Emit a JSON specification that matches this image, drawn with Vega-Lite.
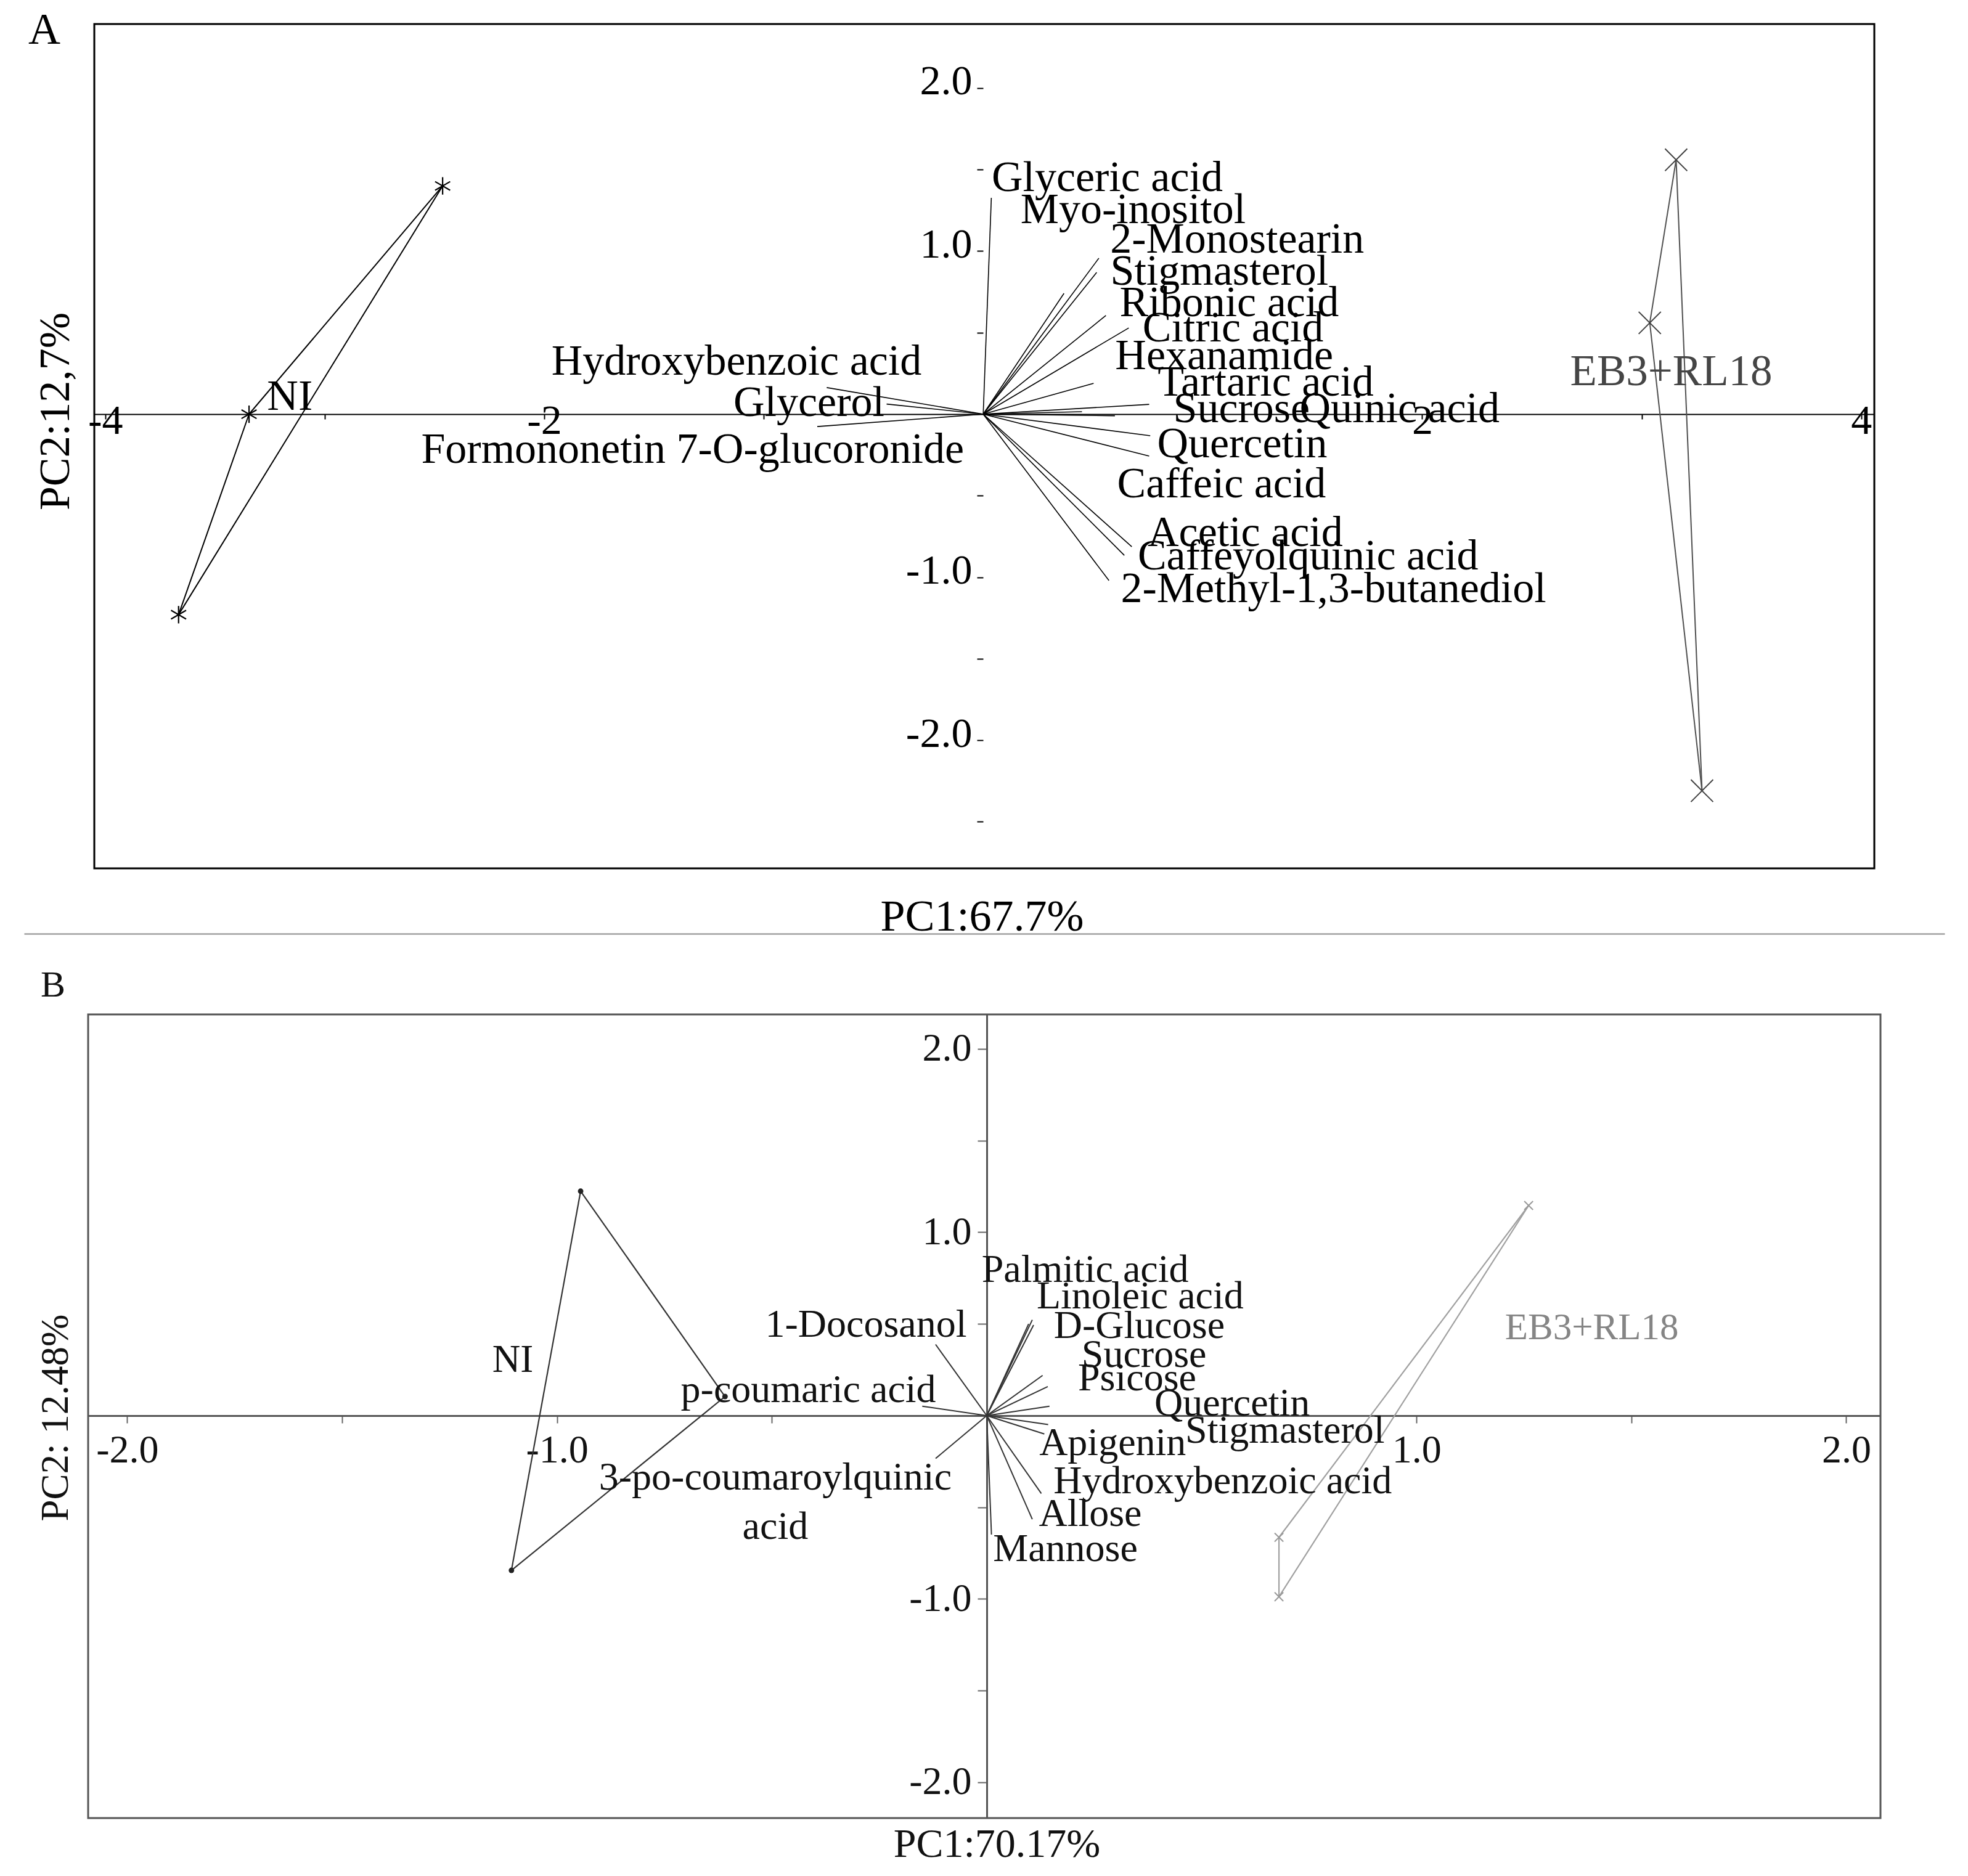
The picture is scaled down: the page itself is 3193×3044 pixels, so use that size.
{
  "$schema": "https://vega.github.io/schema/vega-lite/v6.json",
  "background": "white",
  "padding": {"left": 36, "top": 11, "right": 5, "bottom": 5},
  "spacing": 106,
  "center": true,
  "bounds": "flush",
  "resolve": {"scale": {"x": "independent", "y": "independent"}},
  "datasets": {
    "edgesA": [
      {"grp": "NI", "xa": -2.463, "ya": 1.40, "xb": -3.345, "yb": 0.0},
      {"grp": "NI", "xa": -3.345, "ya": 0.0, "xb": -3.666, "yb": -1.23},
      {"grp": "NI", "xa": -3.666, "ya": -1.23, "xb": -2.463, "yb": 1.40},
      {"grp": "EB3+RL18", "xa": 3.157, "ya": 1.56, "xb": 3.037, "yb": 0.56},
      {"grp": "EB3+RL18", "xa": 3.037, "ya": 0.56, "xb": 3.275, "yb": -2.31},
      {"grp": "EB3+RL18", "xa": 3.275, "ya": -2.31, "xb": 3.157, "yb": 1.56}
    ],
    "ptsA": [
      {"grp": "NI", "x": -2.463, "y": 1.40},
      {"grp": "NI", "x": -3.345, "y": 0.0},
      {"grp": "NI", "x": -3.666, "y": -1.23},
      {"grp": "EB3+RL18", "x": 3.157, "y": 1.56},
      {"grp": "EB3+RL18", "x": 3.037, "y": 0.56},
      {"grp": "EB3+RL18", "x": 3.275, "y": -2.31}
    ],
    "vecA": [
      {"name": "Glyceric acid", "ox": 0, "oy": 0, "vx": 0.037, "vy": 1.327, "lx": 0.565, "ly": 1.448},
      {"name": "Myo-inositol", "ox": 0, "oy": 0, "vx": 0.368, "vy": 0.741, "lx": 0.683, "ly": 1.251},
      {"name": "2-Monostearin", "ox": 0, "oy": 0, "vx": 0.527, "vy": 0.957, "lx": 1.157, "ly": 1.070},
      {"name": "Stigmasterol", "ox": 0, "oy": 0, "vx": 0.517, "vy": 0.870, "lx": 1.076, "ly": 0.873},
      {"name": "Ribonic acid", "ox": 0, "oy": 0, "vx": 0.559, "vy": 0.605, "lx": 1.121, "ly": 0.681},
      {"name": "Citric acid", "ox": 0, "oy": 0, "vx": 0.663, "vy": 0.529, "lx": 1.138, "ly": 0.526},
      {"name": "Hexanamide", "ox": 0, "oy": 0, "vx": 0.503, "vy": 0.189, "lx": 1.098, "ly": 0.355},
      {"name": "Tartaric acid", "ox": 0, "oy": 0, "vx": 0.756, "vy": 0.060, "lx": 1.287, "ly": 0.193},
      {"name": "Sucrose", "ox": 0, "oy": 0, "vx": 0.45, "vy": 0.015, "lx": 1.177, "ly": 0.030},
      {"name": "Quinic acid", "ox": 0, "oy": 0, "vx": 0.60, "vy": -0.01, "lx": 1.897, "ly": 0.030},
      {"name": "Quercetin", "ox": 0, "oy": 0, "vx": 0.761, "vy": -0.132, "lx": 1.180, "ly": -0.185},
      {"name": "Caffeic acid", "ox": 0, "oy": 0, "vx": 0.756, "vy": -0.257, "lx": 1.086, "ly": -0.431},
      {"name": "Acetic acid", "ox": 0, "oy": 0, "vx": 0.677, "vy": -0.813, "lx": 1.194, "ly": -0.730},
      {"name": "Caffeyolquinic acid", "ox": 0, "oy": 0, "vx": 0.643, "vy": -0.866, "lx": 1.480, "ly": -0.873},
      {"name": "2-Methyl-1,3-butanediol", "ox": 0, "oy": 0, "vx": 0.573, "vy": -1.021, "lx": 1.596, "ly": -1.074},
      {"name": "Hydroxybenzoic acid", "ox": 0, "oy": 0, "vx": -0.713, "vy": 0.163, "lx": -1.124, "ly": 0.321},
      {"name": "Glycerol", "ox": 0, "oy": 0, "vx": -0.44, "vy": 0.062, "lx": -0.794, "ly": 0.068},
      {"name": "Formononetin 7-O-glucoronide", "ox": 0, "oy": 0, "vx": -0.756, "vy": -0.076, "lx": -1.324, "ly": -0.219}
    ],
    "grpA": [
      {"grp": "NI", "x": -3.159, "y": 0.106},
      {"grp": "EB3+RL18", "x": 3.135, "y": 0.257}
    ],
    "edgesB": [
      {"grp": "NI", "xa": -0.945, "ya": 1.224, "xb": -0.609, "yb": 0.104},
      {"grp": "NI", "xa": -0.609, "ya": 0.104, "xb": -1.106, "yb": -0.844},
      {"grp": "NI", "xa": -1.106, "ya": -0.844, "xb": -0.945, "yb": 1.224},
      {"grp": "EB3+RL18", "xa": 1.261, "ya": 1.146, "xb": 0.680, "yb": -0.664},
      {"grp": "EB3+RL18", "xa": 0.680, "ya": -0.664, "xb": 0.680, "yb": -0.988},
      {"grp": "EB3+RL18", "xa": 0.680, "ya": -0.988, "xb": 1.261, "yb": 1.146}
    ],
    "ptsB": [
      {"grp": "NI", "x": -0.945, "y": 1.224},
      {"grp": "NI", "x": -0.609, "y": 0.104},
      {"grp": "NI", "x": -1.106, "y": -0.844},
      {"grp": "EB3+RL18", "x": 1.261, "y": 1.146},
      {"grp": "EB3+RL18", "x": 0.680, "y": -0.664},
      {"grp": "EB3+RL18", "x": 0.680, "y": -0.988}
    ],
    "vecB": [
      {"name": "Palmitic acid", "ox": 0, "oy": 0, "vx": 0.0975, "vy": 0.50, "lx": 0.229, "ly": 0.793},
      {"name": "Linoleic acid", "ox": 0, "oy": 0, "vx": 0.106, "vy": 0.522, "lx": 0.357, "ly": 0.650},
      {"name": "D-Glucose", "ox": 0, "oy": 0, "vx": 0.109, "vy": 0.494, "lx": 0.355, "ly": 0.487},
      {"name": "Sucrose", "ox": 0, "oy": 0, "vx": 0.130, "vy": 0.219, "lx": 0.366, "ly": 0.329},
      {"name": "Psicose", "ox": 0, "oy": 0, "vx": 0.142, "vy": 0.158, "lx": 0.350, "ly": 0.203},
      {"name": "Quercetin", "ox": 0, "oy": 0, "vx": 0.146, "vy": 0.051, "lx": 0.571, "ly": 0.064},
      {"name": "Stigmasterol", "ox": 0, "oy": 0, "vx": 0.143, "vy": -0.049, "lx": 0.694, "ly": -0.084},
      {"name": "Apigenin", "ox": 0, "oy": 0, "vx": 0.134, "vy": -0.10, "lx": 0.293, "ly": -0.151},
      {"name": "Hydroxybenzoic acid", "ox": 0, "oy": 0, "vx": 0.127, "vy": -0.425, "lx": 0.549, "ly": -0.360},
      {"name": "Allose", "ox": 0, "oy": 0, "vx": 0.106, "vy": -0.565, "lx": 0.241, "ly": -0.538},
      {"name": "Mannose", "ox": 0, "oy": 0, "vx": 0.011, "vy": -0.649, "lx": 0.183, "ly": -0.729},
      {"name": "1-Docosanol", "ox": 0, "oy": 0, "vx": -0.119, "vy": 0.388, "lx": -0.281, "ly": 0.494},
      {"name": "p-coumaric acid", "ox": 0, "oy": 0, "vx": -0.150, "vy": 0.051, "lx": -0.415, "ly": 0.138},
      {"name": "3-po-coumaroylquinic\nacid", "ox": 0, "oy": 0, "vx": -0.119, "vy": -0.234, "lx": -0.492, "ly": -0.339}
    ],
    "grpB": [
      {"grp": "NI", "x": -1.103, "y": 0.303},
      {"grp": "EB3+RL18", "x": 1.408, "y": 0.477}
    ]
  },
  "vconcat": [
    {
      "width": 2888,
      "height": 1370,
      "view": {"stroke": "black", "strokeWidth": 3},
      "title": {"text": "A", "anchor": "start", "frame": "group", "orient": "top", "offset": -71, "dx": -107, "dy": 33, "baseline": "alphabetic", "fontSize": 72, "fontWeight": "normal", "color": "black", "font": "Liberation Serif"},
      "layer": [
        {
          "data": {"name": "edgesA"},
          "transform": [{"filter": "datum.grp == 'NI'"}],
          "mark": {"type": "rule", "color": "black", "strokeWidth": 2},
          "encoding": {
            "x": {"field": "xa", "type": "quantitative",
              "scale": {"domain": [-4.05, 4.06], "nice": false, "zero": false},
              "axis": {"orient": "bottom", "offset": -737, "values": [-4, -3, -2, -1, 1, 2, 3, 4],
                "labelExpr": "datum.value % 2 == 0 ? (datum.value < 0 ? '-' : '') + abs(datum.value) : ''",
                "domain": true, "domainColor": "black", "domainWidth": 2,
                "ticks": true, "tickColor": "black", "tickWidth": 2, "tickSize": 8,
                "labelFontSize": 68, "labelPadding": -31, "labelBaseline": "top",
                "title": "PC1:67.7%", "titleFontSize": 72, "titleX": 1440, "titleY": 815, "titleBaseline": "middle", "titleAlign": "center"}},
            "y": {"field": "ya", "type": "quantitative",
              "scale": {"domain": [-2.786, 2.393], "nice": false, "zero": false},
              "axis": {"orient": "left", "offset": -1442, "values": [-2.5, -2, -1.5, -1, -0.5, 0.5, 1, 1.5, 2],
                "labelExpr": "datum.value % 1 == 0 ? (datum.value < 0 ? '-' : '') + format(abs(datum.value), '.1f') : ''",
                "domain": false, "ticks": true, "tickColor": "black", "tickWidth": 2, "tickSize": 10,
                "labelFontSize": 68, "labelPadding": 8, "labelOffset": -10, "labelBaseline": "middle",
                "title": "PC2:12,7%", "titleFontSize": 70, "titleX": -1505, "titleY": 628, "titleAngle": 270, "titleAlign": "center", "titleBaseline": "middle"}},
            "x2": {"field": "xb"},
            "y2": {"field": "yb"}
          }
        },
        {
          "data": {"name": "edgesA"},
          "transform": [{"filter": "datum.grp != 'NI'"}],
          "mark": {"type": "rule", "color": "#505050", "strokeWidth": 2},
          "encoding": {
            "x": {"field": "xa", "type": "quantitative"},
            "y": {"field": "ya", "type": "quantitative"},
            "x2": {"field": "xb"},
            "y2": {"field": "yb"}
          }
        },
        {
          "data": {"name": "vecA"},
          "mark": {"type": "rule", "color": "black", "strokeWidth": 1.6},
          "encoding": {
            "x": {"field": "ox", "type": "quantitative"},
            "y": {"field": "oy", "type": "quantitative"},
            "x2": {"field": "vx"},
            "y2": {"field": "vy"}
          }
        },
        {
          "data": {"name": "ptsA"},
          "transform": [{"filter": "datum.grp == 'NI'"}],
          "mark": {"type": "point", "shape": "M0,-1L0,1M-0.866,-0.5L0.866,0.5M-0.866,0.5L0.866,-0.5", "size": 800, "filled": false, "stroke": "black", "strokeWidth": 2.2, "opacity": 1},
          "encoding": {
            "x": {"field": "x", "type": "quantitative"},
            "y": {"field": "y", "type": "quantitative"}
          }
        },
        {
          "data": {"name": "ptsA"},
          "transform": [{"filter": "datum.grp != 'NI'"}],
          "mark": {"type": "point", "shape": "M-1,-1L1,1M-1,1L1,-1", "size": 1300, "filled": false, "stroke": "#404040", "strokeWidth": 2, "opacity": 1},
          "encoding": {
            "x": {"field": "x", "type": "quantitative"},
            "y": {"field": "y", "type": "quantitative"}
          }
        },
        {
          "data": {"name": "vecA"},
          "mark": {"type": "text", "fontSize": 70, "align": "center", "baseline": "middle", "color": "black", "font": "Liberation Serif"},
          "encoding": {
            "x": {"field": "lx", "type": "quantitative"},
            "y": {"field": "ly", "type": "quantitative"},
            "text": {"field": "name"}
          }
        },
        {
          "data": {"name": "grpA"},
          "transform": [{"filter": "datum.grp == 'NI'"}],
          "mark": {"type": "text", "fontSize": 70, "align": "center", "baseline": "middle", "color": "black", "font": "Liberation Serif"},
          "encoding": {
            "x": {"field": "x", "type": "quantitative"},
            "y": {"field": "y", "type": "quantitative"},
            "text": {"field": "grp"}
          }
        },
        {
          "data": {"name": "grpA"},
          "transform": [{"filter": "datum.grp != 'NI'"}],
          "mark": {"type": "text", "fontSize": 71, "align": "center", "baseline": "middle", "color": "#454545", "font": "Liberation Serif"},
          "encoding": {
            "x": {"field": "x", "type": "quantitative"},
            "y": {"field": "y", "type": "quantitative"},
            "text": {"field": "grp"}
          }
        }
      ]
    },
    {
      "width": 3116,
      "height": 25,
      "view": {"stroke": null},
      "data": {"values": [{"v": 0}]},
      "mark": {"type": "point", "opacity": 0},
      "encoding": {
        "x": {"field": "v", "type": "quantitative", "scale": {"domain": [0, 1]},
          "axis": {"orient": "top", "domain": true, "domainColor": "#8a8a8a", "domainWidth": 2, "ticks": false, "labels": false, "title": null}}
      }
    },
    {
      "width": 2908,
      "height": 1304,
      "view": {"stroke": "#555555", "strokeWidth": 3},
      "title": {"text": "B", "anchor": "start", "frame": "group", "orient": "top", "offset": -59, "dx": -77, "dy": -28, "baseline": "alphabetic", "fontSize": 60, "fontWeight": "normal", "color": "#111111", "font": "Liberation Serif"},
      "layer": [
        {
          "data": {"name": "edgesB"},
          "transform": [{"filter": "datum.grp == 'NI'"}],
          "mark": {"type": "rule", "color": "#333333", "strokeWidth": 2.2},
          "encoding": {
            "x": {"field": "xa", "type": "quantitative",
              "scale": {"domain": [-2.091, 2.0797], "nice": false, "zero": false},
              "axis": {"orient": "bottom", "offset": -653, "values": [-2, -1.5, -1, -0.5, 0.5, 1, 1.5, 2],
                "labelExpr": "datum.value % 1 == 0 ? (datum.value < 0 ? '-' : '') + format(abs(datum.value), '.1f') : ''",
                "domain": true, "domainColor": "#555555", "domainWidth": 3,
                "ticks": true, "tickColor": "#666666", "tickWidth": 2, "tickSize": 12,
                "labelFontSize": 64, "labelPadding": 12, "labelBaseline": "top", "labelColor": "#111111",
                "title": "PC1:70.17%", "titleFontSize": 66, "titleX": 1474, "titleY": 695, "titleBaseline": "middle", "titleAlign": "center", "titleColor": "#111111"}},
            "y": {"field": "ya", "type": "quantitative",
              "scale": {"domain": [-2.195, 2.188], "nice": false, "zero": false},
              "axis": {"orient": "left", "offset": -1458, "values": [-2, -1.5, -1, -0.5, 0.5, 1, 1.5, 2],
                "labelExpr": "datum.value % 1 == 0 ? (datum.value < 0 ? '-' : '') + format(abs(datum.value), '.1f') : ''",
                "domain": true, "domainColor": "#555555", "domainWidth": 3,
                "ticks": true, "tickColor": "#666666", "tickWidth": 2, "tickSize": 15,
                "labelFontSize": 64, "labelPadding": 10, "labelBaseline": "middle", "labelColor": "#111111",
                "title": "PC2: 12.48%", "titleFontSize": 63, "titleX": -1511, "titleY": 654, "titleAngle": 270, "titleAlign": "center", "titleBaseline": "middle", "titleColor": "#111111"}},
            "x2": {"field": "xb"},
            "y2": {"field": "yb"}
          }
        },
        {
          "data": {"name": "edgesB"},
          "transform": [{"filter": "datum.grp != 'NI'"}],
          "mark": {"type": "rule", "color": "#a0a0a0", "strokeWidth": 2.2},
          "encoding": {
            "x": {"field": "xa", "type": "quantitative"},
            "y": {"field": "ya", "type": "quantitative"},
            "x2": {"field": "xb"},
            "y2": {"field": "yb"}
          }
        },
        {
          "data": {"name": "vecB"},
          "mark": {"type": "rule", "color": "#333333", "strokeWidth": 2},
          "encoding": {
            "x": {"field": "ox", "type": "quantitative"},
            "y": {"field": "oy", "type": "quantitative"},
            "x2": {"field": "vx"},
            "y2": {"field": "vy"}
          }
        },
        {
          "data": {"name": "ptsB"},
          "transform": [{"filter": "datum.grp == 'NI'"}],
          "mark": {"type": "point", "shape": "circle", "size": 80, "filled": true, "color": "#222222", "opacity": 1},
          "encoding": {
            "x": {"field": "x", "type": "quantitative"},
            "y": {"field": "y", "type": "quantitative"}
          }
        },
        {
          "data": {"name": "ptsB"},
          "transform": [{"filter": "datum.grp != 'NI'"}],
          "mark": {"type": "point", "shape": "M-1,-1L1,1M-1,1L1,-1", "size": 200, "filled": false, "stroke": "#999999", "strokeWidth": 2, "opacity": 1},
          "encoding": {
            "x": {"field": "x", "type": "quantitative"},
            "y": {"field": "y", "type": "quantitative"}
          }
        },
        {
          "data": {"name": "vecB"},
          "mark": {"type": "text", "fontSize": 64, "align": "center", "baseline": "middle", "lineBreak": "\n", "lineHeight": 80, "color": "#111111", "font": "Liberation Serif"},
          "encoding": {
            "x": {"field": "lx", "type": "quantitative"},
            "y": {"field": "ly", "type": "quantitative"},
            "text": {"field": "name"}
          }
        },
        {
          "data": {"name": "grpB"},
          "transform": [{"filter": "datum.grp == 'NI'"}],
          "mark": {"type": "text", "fontSize": 63, "align": "center", "baseline": "middle", "color": "#111111", "font": "Liberation Serif"},
          "encoding": {
            "x": {"field": "x", "type": "quantitative"},
            "y": {"field": "y", "type": "quantitative"},
            "text": {"field": "grp"}
          }
        },
        {
          "data": {"name": "grpB"},
          "transform": [{"filter": "datum.grp != 'NI'"}],
          "mark": {"type": "text", "fontSize": 61, "align": "center", "baseline": "middle", "color": "#858585", "font": "Liberation Serif"},
          "encoding": {
            "x": {"field": "x", "type": "quantitative"},
            "y": {"field": "y", "type": "quantitative"},
            "text": {"field": "grp"}
          }
        }
      ]
    }
  ],
  "config": {
    "font": "Liberation Serif",
    "axis": {"grid": false, "labelFont": "Liberation Serif", "titleFont": "Liberation Serif", "titleFontWeight": "normal", "labelColor": "#000000", "titleColor": "#000000", "labelFlush": false, "labelOverlap": false, "labelBound": false},
    "title": {"font": "Liberation Serif", "fontWeight": "normal", "color": "#000000"},
    "text": {"font": "Liberation Serif"}
  }
}
